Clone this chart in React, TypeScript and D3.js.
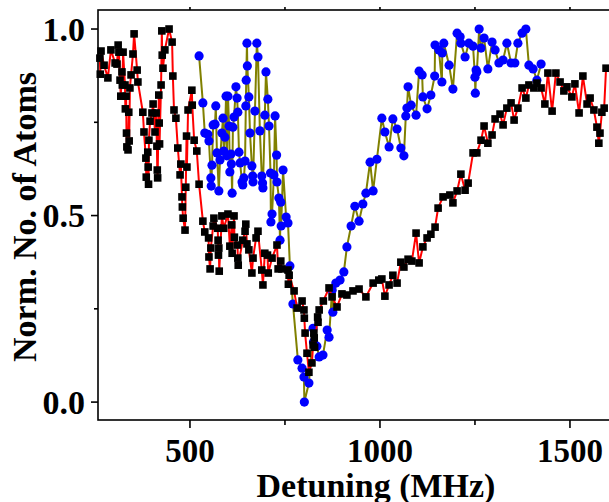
import React from 'react';
import * as d3 from 'd3';

// Detuning (MHz), normalized atom number — black squares / red line
const squareSeries: [number, number][] = [
  [263, 0.922], [264, 0.879], [266, 0.941], [274, 0.903], [284, 0.869], [292, 0.944], [303, 0.909], [308, 0.906],
  [311, 0.957], [313, 0.938], [316, 0.863], [318, 0.82], [321, 0.885], [322, 0.85], [324, 0.938], [329, 0.85],
  [330, 0.786], [332, 0.82], [333, 0.721], [334, 0.684], [337, 0.676], [339, 0.777], [340, 0.7], [342, 0.842],
  [345, 0.877], [350, 0.933], [353, 0.987], [361, 0.89], [363, 0.858], [376, 0.777], [379, 0.724], [384, 0.654],
  [385, 0.603], [389, 0.67], [390, 0.63], [391, 0.584], [392, 0.702], [395, 0.753], [400, 0.775], [403, 0.799],
  [408, 0.724], [411, 0.775], [413, 0.686], [414, 0.622], [415, 0.601], [418, 0.823], [419, 0.748], [420, 0.692],
  [424, 0.85], [426, 0.995], [427, 0.93], [429, 0.895], [434, 0.944], [445, 1.0], [453, 0.965], [455, 0.874],
  [458, 0.783], [463, 0.761], [468, 0.681], [474, 0.609], [476, 0.638], [479, 0.55], [480, 0.523], [482, 0.493],
  [487, 0.461], [489, 0.576], [491, 0.713], [492, 0.63], [495, 0.783], [505, 0.836], [506, 0.796], [511, 0.702],
  [518, 0.673], [524, 0.584], [534, 0.485], [539, 0.456], [549, 0.44], [550, 0.389], [553, 0.357], [555, 0.413],
  [561, 0.472], [563, 0.493], [573, 0.466], [574, 0.434], [575, 0.394], [576, 0.413], [577, 0.351], [584, 0.499],
  [589, 0.466], [600, 0.504], [605, 0.418], [610, 0.475], [611, 0.399], [616, 0.499], [617, 0.442], [625, 0.421],
  [626, 0.386], [627, 0.367], [639, 0.434], [645, 0.458], [647, 0.477], [650, 0.424], [655, 0.408], [663, 0.346],
  [666, 0.386], [674, 0.44], [679, 0.458], [689, 0.354], [692, 0.314], [697, 0.399], [704, 0.394], [706, 0.346],
  [716, 0.386], [729, 0.421], [732, 0.357], [739, 0.378], [742, 0.357], [758, 0.354], [759, 0.316], [761, 0.34],
  [774, 0.298], [782, 0.252], [795, 0.271], [800, 0.247], [801, 0.225], [803, 0.185], [808, 0.131], [813, 0.08],
  [821, 0.105], [824, 0.153], [826, 0.185], [827, 0.172], [828, 0.147], [836, 0.228], [837, 0.214], [840, 0.247],
  [851, 0.271], [866, 0.306], [874, 0.282], [887, 0.255], [900, 0.29], [913, 0.287], [929, 0.298], [945, 0.303],
  [963, 0.282], [982, 0.319], [997, 0.327], [1005, 0.33], [1013, 0.284], [1024, 0.314], [1034, 0.34], [1045, 0.319],
  [1055, 0.375], [1063, 0.362], [1074, 0.383], [1084, 0.378], [1095, 0.453], [1103, 0.373], [1113, 0.416], [1124, 0.44],
  [1134, 0.45], [1145, 0.469], [1153, 0.52], [1166, 0.55], [1184, 0.555], [1192, 0.534], [1203, 0.566], [1213, 0.611],
  [1224, 0.568], [1232, 0.587], [1245, 0.668], [1255, 0.668], [1266, 0.702], [1274, 0.74], [1284, 0.694], [1295, 0.716],
  [1303, 0.759], [1316, 0.772], [1324, 0.743], [1334, 0.788], [1345, 0.802], [1353, 0.756], [1363, 0.788], [1374, 0.842],
  [1384, 0.815], [1392, 0.85], [1405, 0.842], [1413, 0.855], [1424, 0.842], [1434, 0.799], [1442, 0.882], [1453, 0.78],
  [1463, 0.882], [1474, 0.858], [1484, 0.834], [1492, 0.845], [1505, 0.818], [1513, 0.853], [1524, 0.775], [1534, 0.874],
  [1545, 0.799], [1553, 0.815], [1563, 0.783], [1571, 0.737], [1576, 0.694], [1579, 0.721], [1584, 0.777], [1590, 0.788],
  [1595, 0.895],
];

// blue circles / olive line
const circleSeries: [number, number][] = [
  [524, 0.928], [534, 0.802], [539, 0.721], [547, 0.718], [550, 0.7], [555, 0.601], [556, 0.579], [558, 0.635],
  [561, 0.743], [566, 0.745], [568, 0.794], [571, 0.668], [576, 0.566], [579, 0.649], [584, 0.721], [587, 0.761],
  [589, 0.673], [592, 0.71], [595, 0.82], [597, 0.66], [600, 0.82], [603, 0.74], [605, 0.617], [608, 0.665],
  [609, 0.638], [611, 0.56], [613, 0.737], [616, 0.764], [621, 0.845], [624, 0.815], [626, 0.777], [629, 0.67],
  [632, 0.641], [637, 0.59], [639, 0.582], [642, 0.601], [645, 0.646], [647, 0.794], [648, 0.863], [650, 0.962],
  [651, 0.901], [655, 0.818], [658, 0.721], [663, 0.633], [665, 0.606], [666, 0.59], [671, 0.78], [676, 0.962],
  [679, 0.925], [684, 0.727], [689, 0.606], [691, 0.587], [692, 0.574], [697, 0.769], [700, 0.885], [705, 0.812],
  [708, 0.74], [712, 0.614], [713, 0.483], [716, 0.504], [721, 0.609], [724, 0.767], [728, 0.662], [729, 0.59],
  [734, 0.547], [737, 0.434], [739, 0.536], [740, 0.472], [745, 0.622], [753, 0.496], [758, 0.48], [763, 0.365],
  [771, 0.263], [784, 0.113], [795, 0.091], [800, 0.067], [801, 0.0], [813, 0.051], [824, 0.198], [825, 0.161],
  [834, 0.15], [840, 0.121], [850, 0.126], [861, 0.193], [866, 0.174], [874, 0.3], [876, 0.241], [884, 0.319],
  [895, 0.327], [905, 0.349], [913, 0.416], [924, 0.472], [934, 0.525], [945, 0.485], [955, 0.531], [963, 0.56],
  [974, 0.643], [982, 0.566], [992, 0.651], [1005, 0.761], [1013, 0.724], [1024, 0.684], [1034, 0.759], [1045, 0.732],
  [1055, 0.681], [1063, 0.66], [1068, 0.767], [1071, 0.788], [1074, 0.845], [1082, 0.796], [1095, 0.769], [1103, 0.887],
  [1111, 0.877], [1113, 0.818], [1124, 0.786], [1134, 0.823], [1144, 0.874], [1145, 0.957], [1155, 0.944], [1163, 0.858],
  [1164, 0.936], [1168, 0.962], [1182, 0.903], [1192, 0.839], [1203, 0.989], [1211, 0.979], [1213, 0.962], [1224, 0.925],
  [1234, 0.962], [1245, 0.954], [1250, 0.871], [1251, 0.828], [1253, 0.89], [1255, 0.885], [1261, 1.0], [1266, 0.949],
  [1274, 0.976], [1284, 0.893], [1295, 0.965], [1303, 0.944], [1313, 0.909], [1324, 0.917], [1334, 0.962], [1345, 0.909],
  [1355, 0.909], [1363, 0.962], [1374, 0.989], [1384, 1.0], [1392, 0.903], [1403, 0.893], [1413, 0.863], [1424, 0.906],
];

const xMajorTicks = [500, 1000, 1500];
const xMinorTicks = [750, 1250];
const yMajorTicks = [0, 0.5, 1.0];
const yMinorTicks = [0.25, 0.75];
const xTitle = 'Detuning (MHz)';
const yTitle = 'Norm. No. of Atoms';

export default function App() {
  const W = 609;
  const H = 502;
  const left = 98;
  const top = 10;
  const bottom = 420;
  const xDomain: [number, number] = [258, 1620];
  const x = d3.scaleLinear().domain(xDomain).range([left, left + (xDomain[1] - xDomain[0]) * 0.38]);
  const y = d3.scaleLinear().domain([-0.048, 1.051]).range([bottom, top]);
  const right = x(xDomain[1]);
  const line = d3.line<[number, number]>().x((d) => x(d[0])).y((d) => y(d[1]));
  const font = "'Liberation Serif', 'Times New Roman', serif";
  const sq = 7.6;

  return (
    <svg
      width={W}
      height={H}
      style={{ position: 'absolute', left: 0, top: 0, background: '#fff', overflow: 'hidden' }}
      fontFamily={font}
      fontWeight="bold"
    >
      <rect x={0} y={0} width={W} height={H} fill="#fff" />
      {/* data: circles */}
      <path d={line(circleSeries) || ''} fill="none" stroke="#808000" strokeWidth={2} />
      {circleSeries.map((d, i) => (
        <circle key={'c' + i} cx={x(d[0])} cy={y(d[1])} r={4.6} fill="#0000ff" />
      ))}
      {/* data: squares */}
      <path d={line(squareSeries) || ''} fill="none" stroke="#ff0000" strokeWidth={2} />
      {squareSeries.map((d, i) => (
        <rect key={'s' + i} x={x(d[0]) - sq / 2} y={y(d[1]) - sq / 2} width={sq} height={sq} fill="#000" />
      ))}

      {/* frame */}
      <rect x={left} y={top} width={right - left} height={bottom - top} fill="none" stroke="#000" strokeWidth={1.6} />

      {/* y ticks */}
      {yMajorTicks.map((t) => (
        <g key={'ym' + t}>
          <line x1={left - 7} x2={left} y1={y(t)} y2={y(t)} stroke="#000" strokeWidth={1.6} />
          <text x={85} y={y(t)} dy="0.35em" textAnchor="end" fontSize={34}>
            {t.toFixed(1)}
          </text>
        </g>
      ))}
      {yMinorTicks.map((t) => (
        <line key={'yn' + t} x1={left - 4} x2={left} y1={y(t)} y2={y(t)} stroke="#000" strokeWidth={1.6} />
      ))}

      {/* x ticks */}
      {xMajorTicks.map((t) => (
        <g key={'xm' + t}>
          <line x1={x(t)} x2={x(t)} y1={bottom} y2={bottom + 8} stroke="#000" strokeWidth={1.6} />
          <line x1={x(t)} x2={x(t)} y1={top} y2={top - 3} stroke="#000" strokeWidth={1.6} />
          <text x={x(t)} y={462} textAnchor="middle" fontSize={33}>
            {t}
          </text>
        </g>
      ))}
      {xMinorTicks.map((t) => (
        <g key={'xn' + t}>
          <line x1={x(t)} x2={x(t)} y1={bottom} y2={bottom + 5} stroke="#000" strokeWidth={1.6} />
          <line x1={x(t)} x2={x(t)} y1={top} y2={top - 3} stroke="#000" strokeWidth={1.6} />
        </g>
      ))}

      {/* titles */}
      <text x={376} y={497} textAnchor="middle" fontSize={34}>
        {xTitle}
      </text>
      <text transform="translate(36,217) rotate(-90)" textAnchor="middle" fontSize={34}>
        {yTitle}
      </text>
    </svg>
  );
}
